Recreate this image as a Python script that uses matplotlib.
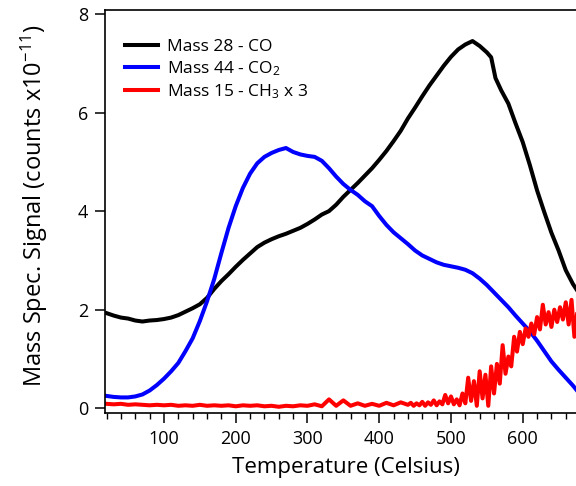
import matplotlib
matplotlib.use("Agg")
import matplotlib.pyplot as plt
from matplotlib.ticker import MultipleLocator

plt.rcParams['font.family'] = ['Open Sans', 'DejaVu Sans']
plt.rcParams['mathtext.default'] = 'regular'

# ---- data ----
temp_co = [20, 30, 40, 50, 60, 70, 80, 90, 100, 110, 120, 130, 140, 150, 160, 170, 180, 190,
           200, 210, 220, 230, 240, 250, 260, 270, 280, 290, 300, 310, 320, 330, 340, 350,
           360, 370, 380, 390, 400, 410, 420, 430, 440, 450, 460, 470, 480, 490, 500, 510,
           520, 530, 540, 550, 556, 562, 570, 580, 590, 600, 610, 620, 630, 640, 650, 660,
           670, 680]
mass28_co = [1.93, 1.88, 1.84, 1.82, 1.78, 1.76, 1.78, 1.79, 1.81, 1.84, 1.89, 1.96, 2.03, 2.11,
             2.24, 2.42, 2.58, 2.72, 2.87, 3.01, 3.14, 3.27, 3.36, 3.43, 3.49, 3.54, 3.60, 3.66,
             3.74, 3.83, 3.93, 4.00, 4.13, 4.29, 4.43, 4.57, 4.72, 4.87, 5.04, 5.22, 5.42, 5.63,
             5.88, 6.10, 6.33, 6.55, 6.75, 6.95, 7.13, 7.28, 7.38, 7.45, 7.35, 7.22, 7.12, 6.70,
             6.45, 6.18, 5.78, 5.40, 4.93, 4.42, 3.98, 3.56, 3.20, 2.80, 2.52, 2.30]

temp_co2 = [20, 30, 40, 50, 60, 70, 80, 90, 100, 110, 120, 130, 140, 150, 160, 170, 180, 190,
            200, 210, 220, 230, 240, 250, 260, 270, 280, 290, 300, 310, 320, 330, 340, 350,
            360, 370, 380, 390, 400, 410, 420, 430, 440, 450, 460, 470, 480, 490, 500, 510,
            520, 530, 540, 550, 560, 570, 580, 590, 600, 610, 620, 630, 640, 650, 660, 670,
            680]
mass44_co2 = [0.25, 0.23, 0.22, 0.22, 0.24, 0.28, 0.36, 0.47, 0.60, 0.75, 0.92, 1.16, 1.42, 1.77,
              2.17, 2.62, 3.15, 3.66, 4.10, 4.47, 4.76, 4.97, 5.10, 5.18, 5.24, 5.28, 5.20, 5.15,
              5.12, 5.10, 5.02, 4.87, 4.70, 4.55, 4.43, 4.33, 4.20, 4.10, 3.90, 3.72, 3.57, 3.45,
              3.33, 3.20, 3.10, 3.03, 2.96, 2.91, 2.88, 2.85, 2.81, 2.74, 2.63, 2.50, 2.35, 2.20,
              2.05, 1.88, 1.72, 1.56, 1.37, 1.16, 0.95, 0.78, 0.62, 0.46, 0.28]

temp_ch3 = [20, 30, 40, 50, 60, 70, 80, 90, 100, 110, 120, 130, 140, 150, 160, 170, 180, 190,
            200, 210, 220, 230, 240, 250, 260, 270, 280, 290, 300, 310, 320, 330, 340, 350,
            360, 370, 380, 390, 400, 410, 420, 430,
            440, 444, 448, 452, 456, 460, 464, 468, 472, 476, 480, 484, 488, 492, 496, 500,
            504, 508, 512, 516, 520, 524, 528, 532, 536, 540, 544, 548, 552, 556, 560, 564,
            568, 572, 576, 580, 584, 588, 592, 596, 600, 604, 608, 612, 616, 620, 624, 628,
            632, 636, 640, 644, 648, 652, 656, 660, 664, 668, 672, 676]
mass15_ch3 = [0.09, 0.08, 0.09, 0.07, 0.08, 0.07, 0.06, 0.07, 0.06, 0.07, 0.05, 0.06, 0.05, 0.07,
              0.05, 0.06, 0.05, 0.06, 0.04, 0.06, 0.05, 0.06, 0.04, 0.05, 0.03, 0.05, 0.04, 0.06,
              0.05, 0.08, 0.04, 0.18, 0.05, 0.16, 0.05, 0.10, 0.05, 0.09, 0.05, 0.11, 0.06, 0.12,
              0.07, 0.11, 0.05, 0.10, 0.06, 0.13, 0.05, 0.12, 0.07, 0.16, 0.06, 0.14, 0.08, 0.27,
              0.10, 0.24, 0.08, 0.18, 0.06, 0.30, 0.10, 0.62, 0.15, 0.55, 0.05, 0.75, 0.20, 0.68,
              0.05, 0.85, 0.30, 0.90, 0.50, 1.28, 0.70, 1.05, 0.85, 1.45, 1.15, 1.55, 1.30, 1.62,
              1.45, 1.72, 1.50, 1.85, 1.60, 2.10, 1.70, 1.95, 1.65, 2.00, 1.75, 2.05, 1.80, 2.15,
              1.70, 2.20, 1.45, 1.95]

x_ticks = [100, 200, 300, 400, 500, 600]
y_ticks = [0, 2, 4, 6, 8]

# ---- figure ----
W, H = 576, 486
fig = plt.figure(figsize=(W / 100, H / 100), dpi=100)
ax_left, ax_right, ax_top, ax_bottom = 105, 587, 10, 412.7
ax = fig.add_axes([ax_left / W, (H - ax_bottom) / H, (ax_right - ax_left) / W, (ax_bottom - ax_top) / H])

lw = 2.9
ax.plot(temp_co, mass28_co, color='#000000', lw=lw, label='Mass 28 - CO')
ax.plot(temp_co2, mass44_co2, color='#0000ff', lw=lw, label='Mass 44 - CO$_2$')
ax.plot(temp_ch3, mass15_ch3, color='#ff0000', lw=lw, label='Mass 15 - CH$_3$ x 3')

ax.set_xlim(17.8, 17.8 + (ax_right - ax_left) / 0.7175)
ax.set_ylim(-0.09, 8.08)
ax.set_xticks(x_ticks)
ax.set_yticks(y_ticks)
ax.xaxis.set_minor_locator(MultipleLocator(20))

for s in ['top', 'left', 'bottom', 'right']:
    ax.spines[s].set_linewidth(1.2)
ax.tick_params(axis='both', which='major', direction='out', length=7.2, width=1.1,
               labelsize=13, pad=5)
ax.tick_params(axis='x', which='minor', direction='out', length=4, width=1.0)
ax.tick_params(axis='y', which='minor', left=False)

ax.set_xlabel('Temperature (Celsius)', fontsize=16)
ax.set_ylabel('Mass Spec. Signal (counts x10$^{-11}$)', fontsize=17)
ax.yaxis.set_label_coords(-55 / (ax_right - ax_left), 0.515)
ax.xaxis.set_label_coords(0.5, -44 / (ax_bottom - ax_top))

ax.legend(loc='upper left', bbox_to_anchor=(0.041, 0.928), frameon=False, fontsize=12.5,
          handlelength=1.9, handletextpad=0.55, labelspacing=0.25, borderpad=0,
          borderaxespad=0)

fig.savefig('out.png', dpi=100)
